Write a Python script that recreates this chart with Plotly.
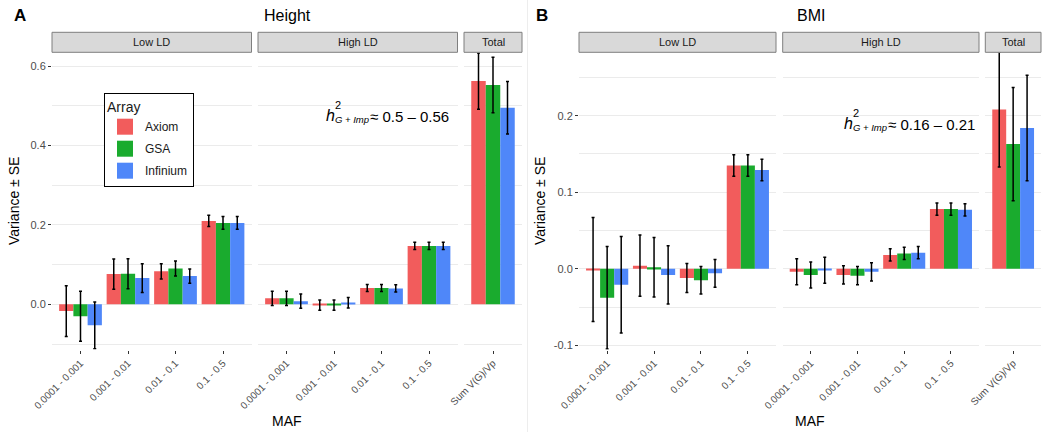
import plotly.graph_objects as go

# ---------------- data ----------------
array_names = ["Axiom", "GSA", "Infinium"]
array_colors = ["#F25C5C", "#1AAB2E", "#4F87F9"]
maf_bins = ["0.0001 - 0.001", "0.001 - 0.01", "0.01 - 0.1", "0.1 - 0.5"]
total_bins = ["Sum V(G)/Vp"]
facet_labels = ["Low LD", "High LD", "Total"]

# Height (panel A)
height_low_axiom = [-0.017, 0.076, 0.083, 0.210]
height_low_gsa = [-0.030, 0.077, 0.090, 0.205]
height_low_inf = [-0.053, 0.066, 0.071, 0.205]
height_low_axiom_se = [0.064, 0.038, 0.019, 0.014]
height_low_gsa_se = [0.063, 0.038, 0.019, 0.016]
height_low_inf_se = [0.059, 0.036, 0.018, 0.016]

height_high_axiom = [0.015, -0.002, 0.041, 0.147]
height_high_gsa = [0.015, -0.002, 0.041, 0.147]
height_high_inf = [0.008, 0.004, 0.040, 0.147]
height_high_axiom_se = [0.018, 0.013, 0.009, 0.009]
height_high_gsa_se = [0.018, 0.013, 0.009, 0.009]
height_high_inf_se = [0.018, 0.013, 0.009, 0.009]

height_total_axiom = [0.562]
height_total_gsa = [0.552]
height_total_inf = [0.495]
height_total_axiom_se = [0.071]
height_total_gsa_se = [0.070]
height_total_inf_se = [0.066]

# BMI (panel B)
bmi_low_axiom = [-0.001, 0.004, -0.012, 0.135]
bmi_low_gsa = [-0.038, 0.002, -0.015, 0.135]
bmi_low_inf = [-0.021, -0.008, -0.006, 0.129]
bmi_low_axiom_se = [0.068, 0.040, 0.019, 0.014]
bmi_low_gsa_se = [0.067, 0.039, 0.018, 0.014]
bmi_low_inf_se = [0.063, 0.038, 0.018, 0.014]

bmi_high_axiom = [-0.004, -0.008, 0.018, 0.078]
bmi_high_gsa = [-0.008, -0.009, 0.020, 0.078]
bmi_high_inf = [-0.002, -0.004, 0.021, 0.077]
bmi_high_axiom_se = [0.017, 0.012, 0.008, 0.008]
bmi_high_gsa_se = [0.017, 0.012, 0.008, 0.008]
bmi_high_inf_se = [0.017, 0.012, 0.008, 0.008]

bmi_total_axiom = [0.208]
bmi_total_gsa = [0.163]
bmi_total_inf = [0.184]
bmi_total_axiom_se = [0.075]
bmi_total_gsa_se = [0.074]
bmi_total_inf_se = [0.069]

height_ticks = [0.0, 0.2, 0.4, 0.6]
height_ticktext = ["0.0", "0.2", "0.4", "0.6"]
height_minor = [-0.1, 0.1, 0.3, 0.5]
bmi_ticks = [-0.1, 0.0, 0.1, 0.2]
bmi_ticktext = ["-0.1", "0.0", "0.1", "0.2"]
bmi_minor = [-0.05, 0.05, 0.15, 0.25]

# ---------------- layout helpers ----------------
W, H = 1050, 432
FONT = "Liberation Sans, Arial, sans-serif"


def px(x):
    return x / W


def py(y):
    return 1 - y / H


panel_top, panel_bot = 52.5, 349.5
strip_top = 32.3
x_domains = [(52, 251.5), (258, 457.5), (464, 522),
             (579, 776), (782.7, 979), (985.3, 1041)]

panels = [
    (maf_bins, [height_low_axiom, height_low_gsa, height_low_inf],
     [height_low_axiom_se, height_low_gsa_se, height_low_inf_se]),
    (maf_bins, [height_high_axiom, height_high_gsa, height_high_inf],
     [height_high_axiom_se, height_high_gsa_se, height_high_inf_se]),
    (total_bins, [height_total_axiom, height_total_gsa, height_total_inf],
     [height_total_axiom_se, height_total_gsa_se, height_total_inf_se]),
    (maf_bins, [bmi_low_axiom, bmi_low_gsa, bmi_low_inf],
     [bmi_low_axiom_se, bmi_low_gsa_se, bmi_low_inf_se]),
    (maf_bins, [bmi_high_axiom, bmi_high_gsa, bmi_high_inf],
     [bmi_high_axiom_se, bmi_high_gsa_se, bmi_high_inf_se]),
    (total_bins, [bmi_total_axiom, bmi_total_gsa, bmi_total_inf],
     [bmi_total_axiom_se, bmi_total_gsa_se, bmi_total_inf_se]),
]

height_range = [-0.1138, 0.634]
bmi_range = [-0.1055, 0.2826]

fig = go.Figure()
layout = dict(
    width=W, height=H, autosize=False,
    margin=dict(l=0, r=0, t=0, b=0),
    template="none",
    paper_bgcolor="white", plot_bgcolor="white",
    barmode="group", bargap=0.1, bargroupgap=0,
    font=dict(family=FONT, color="#1A1A1A"),
    showlegend=True,
)

for i, (cats, vals, ses) in enumerate(panels):
    n = i + 1
    xa = "x" if n == 1 else f"x{n}"
    ya = "y" if n == 1 else f"y{n}"
    for j in range(3):
        fig.add_trace(go.Bar(
            x=cats, y=vals[j], name=array_names[j],
            xaxis=xa, yaxis=ya, showlegend=False,
            marker=dict(color=array_colors[j], line=dict(width=0)),
            error_y=dict(type="data", array=ses[j], color="black",
                         thickness=1.5, width=1.5),
        ))
    is_height = i < 3
    yr = height_range if is_height else bmi_range
    first = (i % 3 == 0)
    d0, d1 = x_domains[i]
    layout[f"xaxis{'' if n == 1 else n}"] = dict(
        domain=[px(d0), px(d1)], anchor=ya, type="category",
        categoryorder="array", categoryarray=cats,
        range=[-0.6, len(cats) - 0.4],
        showgrid=False, zeroline=False, showline=False,
        ticks="outside", ticklen=3, tickwidth=1, tickcolor="#333333",
        tickangle=-45, tickfont=dict(size=10, color="#4D4D4D", family=FONT),
        fixedrange=True,
    )
    ydict = dict(
        domain=[py(panel_bot), py(panel_top)], anchor=xa,
        range=yr, zeroline=False, showline=False,
        showgrid=True, gridcolor="#EBEBEB", gridwidth=1,
        tickmode="array",
        tickvals=height_ticks if is_height else bmi_ticks,
        ticktext=height_ticktext if is_height else bmi_ticktext,
        minor=dict(tickmode="array",
                   tickvals=height_minor if is_height else bmi_minor,
                   showgrid=True, gridcolor="#EBEBEB", gridwidth=1,
                   ticks=""),
        fixedrange=True,
    )
    if first:
        ydict.update(ticks="outside", ticklen=3, tickwidth=1,
                     tickcolor="#333333", showticklabels=True,
                     tickfont=dict(size=11, color="#4D4D4D", family=FONT))
    else:
        ydict.update(ticks="", showticklabels=False)
    layout[f"yaxis{'' if n == 1 else n}"] = ydict

# legend entries (square swatches)
for j in range(3):
    fig.add_trace(go.Scatter(
        x=[None], y=[None], mode="markers", name=array_names[j],
        legendgroup=array_names[j],
        marker=dict(symbol="square", size=16, color=array_colors[j]),
        showlegend=True,
    ))

layout["legend"] = dict(
    x=px(104), y=py(93), xanchor="left", yanchor="top",
    bgcolor="white", bordercolor="black", borderwidth=1,
    title=dict(text="Array", font=dict(size=14, color="#1A1A1A", family=FONT)),
    font=dict(size=12, color="#1A1A1A", family=FONT),
    tracegroupgap=3, itemclick=False, itemdoubleclick=False,
)

shapes = []
annotations = []

# facet strips
for i, (d0, d1) in enumerate(x_domains):
    shapes.append(dict(type="rect", xref="paper", yref="paper",
                       x0=px(d0), x1=px(d1), y0=py(panel_top - 0.2), y1=py(strip_top),
                       fillcolor="#D9D9D9", line=dict(color="#7F7F7F", width=1),
                       layer="above"))
    annotations.append(dict(xref="paper", yref="paper",
                            x=px((d0 + d1) / 2), y=py((strip_top + panel_top) / 2),
                            text=facet_labels[i % 3], showarrow=False,
                            xanchor="center", yanchor="middle",
                            font=dict(size=11, color="#1A1A1A", family=FONT)))

# faint divider between figure parts
shapes.append(dict(type="line", xref="paper", yref="paper",
                   x0=px(527.5), x1=px(527.5), y0=0, y1=1,
                   line=dict(color="#EDEDED", width=1)))


def text_at(x, y, text, size, anchor="left", angle=0, color="#1A1A1A"):
    annotations.append(dict(xref="paper", yref="paper", x=px(x), y=py(y),
                            text=text, showarrow=False, xanchor=anchor,
                            yanchor="middle", textangle=angle,
                            font=dict(size=size, color=color, family=FONT)))


# panel letters and titles
text_at(12, 16, "<b>A</b>", 17, color="black")
text_at(262, 16, "Height", 16, color="black")
text_at(534, 16, "<b>B</b>", 17, color="black")
text_at(795, 16, "BMI", 16, color="black")

# axis titles
text_at(14, (panel_top + panel_bot) / 2, "Variance ± SE", 14, anchor="center", angle=-90, color="black")
text_at(540, (panel_top + panel_bot) / 2, "Variance ± SE", 14, anchor="center", angle=-90, color="black")
text_at(287, 421, "MAF", 14, anchor="center", color="black")
text_at(810, 421, "MAF", 14, anchor="center", color="black")


# heritability annotations
def h2(x, y, rng):
    text_at(x, y, "<i>h</i>", 16, color="black")
    text_at(x + 9, y - 10.5, "2", 11, color="black")
    text_at(x + 9, y + 4.5, "<i>G + Imp</i>", 9.5, color="black")
    text_at(x + 44, y + 1.5, "≈ " + rng, 15, color="black")


h2(324, 115, "0.5 – 0.56")
h2(842, 123, "0.16 – 0.21")

layout["shapes"] = shapes
layout["annotations"] = annotations
fig.update_layout(**layout)

fig.write_html(
    "out.html",
    config={"displayModeBar": False, "staticPlot": False},
    post_script="document.body.style.margin='0';document.body.style.padding='0';",
)
